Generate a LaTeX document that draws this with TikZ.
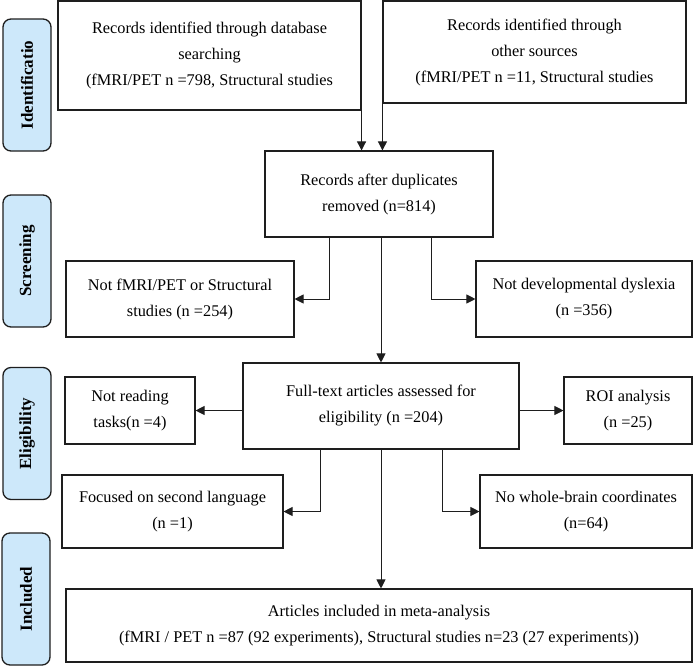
\documentclass[tikz,border=0pt]{standalone}
\usepackage{fontspec}
\setmainfont{Liberation Serif}
\usetikzlibrary{arrows.meta}
\definecolor{lblfill}{RGB}{205,232,250}
\definecolor{lnc}{RGB}{30,30,30}
\tikzset{
  box/.style={draw=lnc, line width=1.1pt, fill=white, align=center, inner sep=2pt,
    font=\fontsize{16.3}{26}\selectfont},
  lbl/.style={draw=lnc, line width=1.3pt, fill=lblfill, rounded corners=8pt, rotate=90,
    minimum width=132pt, minimum height=48pt, inner sep=0pt,
    font=\fontsize{17}{20}\selectfont\bfseries},
  arr/.style={draw=lnc, line width=0.9pt, -{Triangle[length=9pt,width=9pt]}}
}
\begin{document}
\begin{tikzpicture}[x=1pt,y=-1pt]
\useasboundingbox (0,0) rectangle (695,667);
% phase labels
\node[lbl] (l1) at (27,85) {Identificatio};
\node[lbl] (l2) at (27,261) {Screening};
\node[lbl] (l3) at (27,433.5) {Eligibility};
\node[lbl] (l4) at (26,599) {Included};
% boxes
\node[box, minimum width=303pt, minimum height=109pt] (b1) at (209.5,55.5)
  {Records identified through database\\searching\\(fMRI/PET n =798, Structural studies};
\node[box, minimum width=303pt, minimum height=102pt] (b2) at (534.5,52)
  {Records identified through\\other sources\\(fMRI/PET n =11, Structural studies};
\node[box, minimum width=228pt, minimum height=86pt] (b3) at (379,194)
  {Records after duplicates\\removed (n=814)};
\node[box, minimum width=228pt, minimum height=76pt] (b4) at (180,299)
  {Not fMRI/PET or Structural\\studies (n =254)};
\node[box, minimum width=216pt, minimum height=76pt] (b5) at (584,299)
  {Not developmental dyslexia\\(n =356)};
\node[box, minimum width=276pt, minimum height=86pt] (b6) at (381,406)
  {Full-text articles assessed for\\eligibility (n =204)};
\node[box, minimum width=130pt, minimum height=67pt] (b7) at (130,410.5)
  {Not reading\\tasks(n =4)};
\node[box, minimum width=128pt, minimum height=67pt] (b8) at (628,410.5)
  {ROI analysis\\(n =25)};
\node[box, minimum width=221pt, minimum height=73pt] (b9) at (172.5,511.5)
  {Focused on second language\\(n =1)};
\node[box, minimum width=212pt, minimum height=73pt] (b10) at (586,511.5)
  {No whole-brain coordinates\\(n=64)};
\node[box, minimum width=626pt, minimum height=73pt] (b11) at (379,625.5)
  {Articles included in meta-analysis\\(fMRI / PET n =87 (92 experiments), Structural studies n=23 (27 experiments))};
% connectors
\draw[arr] (b1.south east) -- (b1.south east |- b3.north);
\draw[arr] (b2.south west) -- (b2.south west |- b3.north);
\draw[arr] (b3.south -| 329,0) |- (b4.east);
\draw[arr] (b3.south -| 431,0) |- (b5.west);
\draw[arr] (b3.south -| 381,0) -- (b6.north -| 381,0);
\draw[arr] (b7.east -| b6.west) -- (b7.east);
\draw[arr] (b8.west -| b6.east) -- (b8.west);
\draw[arr] (b6.south -| 320,0) |- (b9.east);
\draw[arr] (b6.south -| 442,0) |- (b10.west);
\draw[arr] (b6.south -| 381,0) -- (b11.north -| 381,0);
\end{tikzpicture}
\end{document}
